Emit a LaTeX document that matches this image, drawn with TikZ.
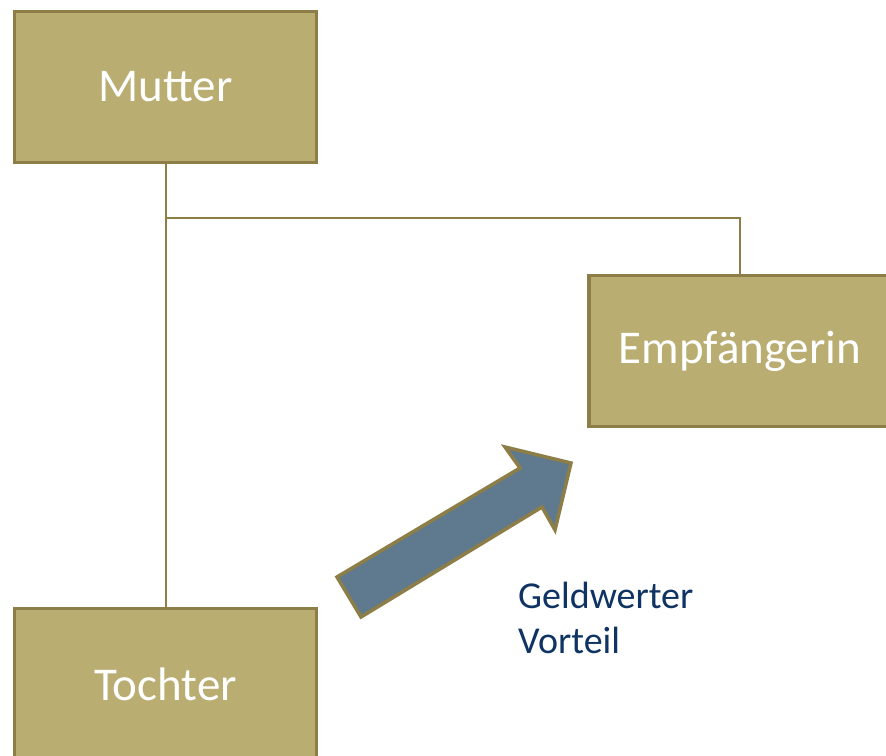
\documentclass[tikz,border=0pt]{standalone}
\usepackage{fontspec}
\setmainfont{Carlito}
\definecolor{boxfill}{HTML}{B9AD72}
\definecolor{boxline}{HTML}{8C7E46}
\definecolor{arrowfill}{HTML}{5F7A8F}
\definecolor{textblue}{HTML}{0F3362}
\tikzset{
  famnode/.style={draw=boxline, line width=3.5pt, fill=boxfill, minimum width=302pt, minimum height=151pt, inner sep=0pt, text=white, font=\fontsize{47}{56}\selectfont},
  conn/.style={draw=boxline, line width=2pt},
}
\begin{document}
\begin{tikzpicture}[x=1pt,y=-1pt]
\useasboundingbox (0,0) rectangle (886,755);
\node[famnode] (mutter) at (165.5,87) {Mutter};
\node[famnode] (empf) at (740,351) {Empfängerin};
\node[famnode] (tochter) at (165.5,684) {Tochter};
\coordinate (j) at (165.5,218);
\draw[conn] (mutter.south) -- (tochter.north);
\draw[conn] (j) -| (empf.north);
\draw[draw=boxline, line width=3.5pt, fill=arrowfill, line join=miter]
  (337,577) -- (520,468) -- (505,447) -- (571,463) -- (555,530) -- (542,507) -- (361,617) -- cycle;
\node[anchor=base west, align=left, inner sep=0pt, text=textblue, font=\fontsize{38}{45}\selectfont] (gv) at (518,653) {Geldwerter\\Vorteil};
\end{tikzpicture}
\end{document}
